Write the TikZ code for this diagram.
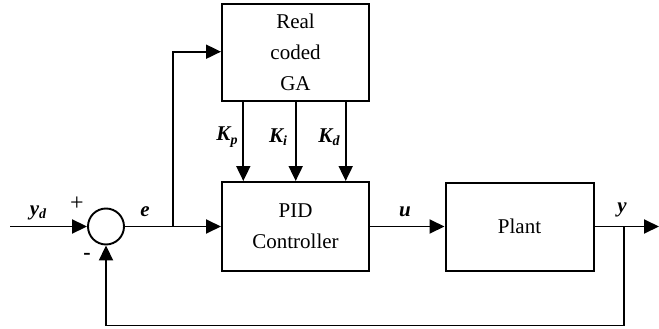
\documentclass[tikz,border=0pt]{standalone}
\usepackage{fontspec}
\setmainfont{Liberation Serif}
\usetikzlibrary{arrows.meta,calc}
\begin{document}
\begin{tikzpicture}[x=1pt,y=-1pt,
  blk/.style={draw,line width=2pt,minimum width=#1,inner sep=0pt,align=center,font=\fontsize{21}{31}\selectfont},
  arr/.style={line width=1.9pt,-{Triangle[length=15pt,width=14pt]}},
  lbl/.style={font=\fontsize{21}{25}\selectfont\bfseries\itshape,inner sep=0pt}]
\useasboundingbox (0,0) rectangle (659,329);
\node[blk=147pt,minimum height=97pt] (ga) at (295.5,52.5) {Real\\coded\\GA};
\node[blk=147pt,minimum height=89pt] (pid) at (295.5,226.5) {PID\\Controller};
\node[blk=148pt,minimum height=88pt] (plant) at (519.5,226.5) {Plant};
\node[draw,circle,line width=1.9pt,minimum size=36pt,inner sep=0pt] (sum) at (106,226.5) {};
\coordinate (in) at (10,226.5);
\coordinate (out) at (659,226.5);
\coordinate (eb) at (173.3,226.5);
\coordinate (yb) at (624.3,226.5);
\coordinate (fb) at (624.3,325.5);
\coordinate (gaw) at (173.3,51.7);
\draw[arr] (in) -- (sum);
\draw[arr] (sum) -- (pid);
\draw[arr] (eb) -- (gaw) -- (gaw -| ga.west);
\draw[arr] (pid) -- (plant);
\draw[arr] (plant) -- (out);
\draw[arr] (yb) -- (fb) -| (sum.south);
\foreach \x in {243.3,295.7,345.7}{
  \draw[arr] (\x,0 |- ga.south) -- (\x,0 |- pid.north);
}
\node[lbl] (lyd) at (38,213) {y\raisebox{-0.35ex}{\fontsize{14}{14}\selectfont d}};
\node[font=\fontsize{24}{24}\selectfont,inner sep=0pt] (lp) at (77,204) {+};
\node[font=\fontsize{22}{22}\selectfont\bfseries,inner sep=0pt] (lm) at (87,256) {-};
\node[lbl] (le) at (145,212) {e};
\node[lbl] (lu) at (405,212) {u};
\node[lbl] (ly) at (622,210) {y};
\node[lbl] (lkp) at (227,137) {K\raisebox{-0.35ex}{\fontsize{14}{14}\selectfont p}};
\node[lbl] (lki) at (278,137) {K\raisebox{-0.35ex}{\fontsize{14}{14}\selectfont i}};
\node[lbl] (lkd) at (329,137) {K\raisebox{-0.35ex}{\fontsize{14}{14}\selectfont d}};
\end{tikzpicture}
\end{document}
